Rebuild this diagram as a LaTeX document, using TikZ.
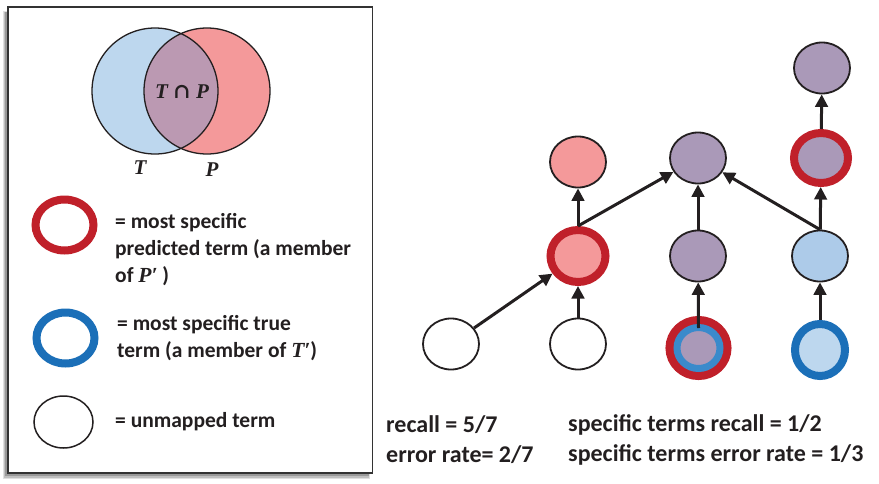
\documentclass[tikz,border=0pt]{standalone}
\usepackage{fontspec}
\setmainfont{Carlito}
\newfontfamily\vennserif{Liberation Serif}
\newfontfamily\symserif{DejaVu Serif}
\usetikzlibrary{shapes.geometric,arrows.meta}
\definecolor{ringred}{RGB}{192,32,42}
\definecolor{ringblue}{RGB}{27,111,184}
\definecolor{ringblueb}{RGB}{58,138,203}
\definecolor{fillpink}{RGB}{244,153,154}
\definecolor{fillpurple}{RGB}{170,153,184}
\definecolor{fillblue}{RGB}{173,203,233}
\definecolor{filllblue}{RGB}{189,215,238}
\definecolor{vennblue}{RGB}{189,215,238}
\definecolor{vennred}{RGB}{244,153,154}
\definecolor{vennmid}{RGB}{187,153,178}
\definecolor{inkc}{RGB}{35,31,32}
\newcommand\vennfont{\fontsize{21}{21}\selectfont\vennserif\bfseries\itshape}
\newcommand\legfont{\fontsize{21.5}{27}\selectfont\bfseries}
\newcommand\statfont{\fontsize{24}{30}\selectfont\bfseries}
\newcommand\mvar[1]{{\vennserif\bfseries\itshape #1}}
\begin{document}
\begin{tikzpicture}[x=1pt,y=-1pt,
  term/.style={ellipse,draw=inkc,line width=1.8,inner sep=0,minimum width=56,minimum height=51},
  redring/.style={ellipse,draw=ringred,line width=8,inner sep=0},
  bluering/.style={ellipse,draw=ringblue,line width=8,inner sep=0},
  arr/.style={draw=inkc,line width=3,-{Triangle[length=12.5,width=12.5]}},
  legtext/.style={anchor=west,font=\legfont,align=left,inner sep=0,text=inkc},
  stat/.style={anchor=west,font=\statfont,align=left,inner sep=0,text=inkc},
  vlabel/.style={font=\vennfont,text=inkc,inner sep=1}
]
\useasboundingbox (0,0) rectangle (879,483);
% legend box with shadow
\fill[black,opacity=0.12] (3,11) rectangle (370,479);
\fill[black,opacity=0.15] (4,12) rectangle (369,477.5);
\fill[black,opacity=0.2] (5,12) rectangle (369,476);
\draw[fill=white,draw=black!80,line width=1.4] (8,7) rectangle (372.5,473);
% Venn
\fill[vennblue] (155,91) circle (63);
\fill[vennred] (207,91) circle (63);
\begin{scope}
\clip (155,91) circle (63);
\fill[vennmid] (207,91) circle (63);
\end{scope}
\draw[inkc,line width=1.3] (155,91) circle (63);
\draw[inkc,line width=1.3] (207,91) circle (63);
\node[vlabel] (tp) at (182,92) {T {\symserif\bfseries\upshape ∩} P};
\node[vlabel] (tl) at (140,168) {T};
\node[vlabel] (pl) at (212,170) {P};
% legend entries
\node[redring,minimum width=58,minimum height=51] (lr) at (64.5,225) {};
\node[legtext] (lrt) at (115,250) {= most specific\\predicted term (a member\\of \mvar{P′} )};
\node[bluering,minimum width=58,minimum height=51] (lb) at (65.5,338) {};
\node[legtext] (lbt) at (117,338) {= most specific true\\term (a member of \mvar{T′})};
\node[term,minimum width=59,minimum height=52,line width=1.5] (lw) at (63.5,422) {};
\node[legtext] (lwt) at (115,422) {= unmapped term};
% graph nodes
\node[term,fill=fillpurple] (top) at (822,68) {};
\node[term,fill=fillpink] (p1) at (578,162) {};
\node[term,fill=fillpurple] (p2) at (698,158) {};
\node[redring,fill=fillpurple,minimum width=54,minimum height=50] (r2) at (821,158) {};
\node[redring,fill=fillpink,minimum width=55,minimum height=52] (r3) at (578,256) {};
\node[term,fill=fillpurple] (m3) at (698,256) {};
\node[term,fill=fillblue] (b3) at (820,256) {};
\node[term,fill=white] (w1) at (451,344) {};
\node[term,fill=white] (w2) at (578,344) {};
\node[ellipse,inner sep=0,minimum width=43,minimum height=41,fill=fillpurple,draw=ringblueb,line width=7,
  preaction={draw=ringred,line width=23}] (rb) at (698.5,348) {};
\node[bluering,fill=filllblue,minimum width=50,minimum height=52] (bb) at (820,350) {};
% arrows
\draw[arr] (r2) -- (top);
\draw[arr] (r3) -- (p1);
\draw[arr] (r3.north) -- (p2);
\draw[arr] (m3) -- (p2);
\draw[arr] (b3.north) -- (p2);
\draw[arr] (b3) -- (r2);
\draw[arr] (w1) -- (r3);
\draw[arr] (w2) -- (r3);
\draw[arr] ([yshift=-4]rb.north) -- (m3);
\draw[arr] (bb) -- (b3);
% stats
\node[stat] (s1) at (386,440) {recall = 5/7\\error rate= 2/7};
\node[stat] (s2) at (568,440) {specific terms recall = 1/2\\specific terms error rate = 1/3};
\end{tikzpicture}
\end{document}
